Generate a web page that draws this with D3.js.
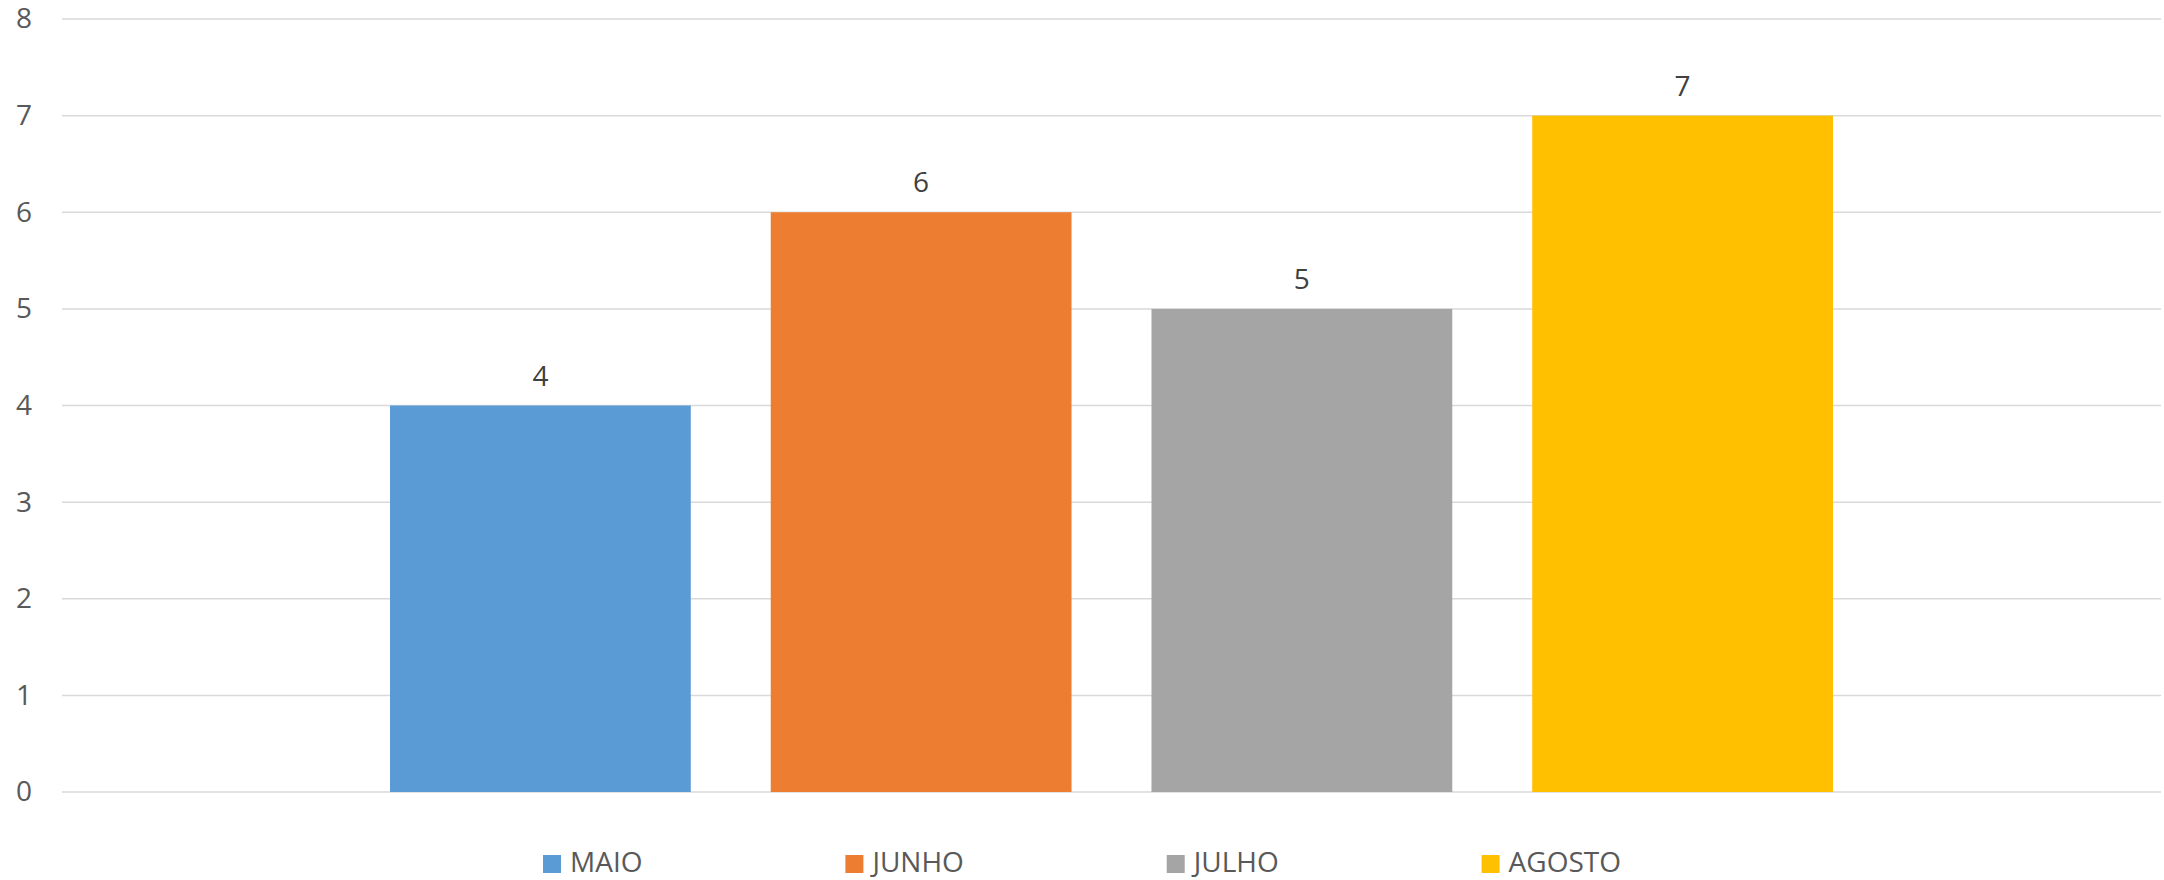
<!DOCTYPE html>
<html><head><meta charset="utf-8">
<script src="https://cdn.jsdelivr.net/npm/d3@7"></script>
<style>body{margin:0;background:#fff;} svg{display:block;}</style>
</head><body>
<script>
const series = ["MAIO", "JUNHO", "JULHO", "AGOSTO"];
const values = [4, 6, 5, 7];
const colors = ["#5B9BD5", "#ED7D31", "#A5A5A5", "#FFC000"];
const yTicks = [0, 1, 2, 3, 4, 5, 6, 7, 8];

const W = 2164, H = 880;
const font = "'Open Sans', 'Liberation Sans', sans-serif";
const svg = d3.select("body").append("svg").attr("width", W).attr("height", H);

const plot = {left: 62, right: 2161, top: 19, bottom: 792};
const y = d3.scaleLinear().domain([0, 8]).range([plot.bottom, plot.top]);
const x = d3.scaleBand().domain(series).range([390, 1833]).paddingInner(0.21).paddingOuter(0);

// gridlines
svg.append("g").selectAll("line").data(yTicks).join("line")
  .attr("x1", plot.left).attr("x2", plot.right)
  .attr("y1", d => y(d)).attr("y2", d => y(d))
  .attr("stroke", "#d9d9d9").attr("stroke-width", 1.5);

// y axis labels
const yAxis = d3.axisLeft(y).tickValues(yTicks).tickSize(0).tickPadding(0);
const ya = svg.append("g").attr("transform", "translate(32,0)").call(yAxis);
ya.select(".domain").remove();
ya.selectAll("text").attr("font-family", font).attr("font-size", 28).attr("fill", "#595959");

// bars
svg.append("g").selectAll("rect").data(series).join("rect")
  .attr("x", d => x(d)).attr("width", x.bandwidth())
  .attr("y", (d, i) => y(values[i])).attr("height", (d, i) => y(0) - y(values[i]))
  .attr("fill", (d, i) => colors[i]);

// data labels
svg.append("g").selectAll("text").data(series).join("text")
  .attr("x", d => x(d) + x.bandwidth() / 2)
  .attr("y", (d, i) => y(values[i]) - 20)
  .attr("text-anchor", "middle")
  .attr("font-family", font).attr("font-size", 28).attr("fill", "#404040")
  .text((d, i) => values[i]);

// legend
const lg = svg.append("g");
const items = lg.selectAll("g").data(series).join("g");
items.append("rect").attr("width", 18).attr("height", 18).attr("y", 855)
  .attr("fill", (d, i) => colors[i]);
items.append("text").attr("x", 27).attr("y", 872)
  .attr("font-family", font).attr("font-size", 28).attr("fill", "#595959")
  .text(d => d);
const legendSpan = 1078;
let widths = [];
items.each(function() { widths.push(this.getBBox().width); });
const gap = (legendSpan - d3.sum(widths)) / (series.length - 1);
let cx = W / 2 - legendSpan / 2;
items.each(function(d, i) {
  d3.select(this).attr("transform", `translate(${cx},0)`);
  cx += widths[i] + gap;
});
</script>
</body></html>
